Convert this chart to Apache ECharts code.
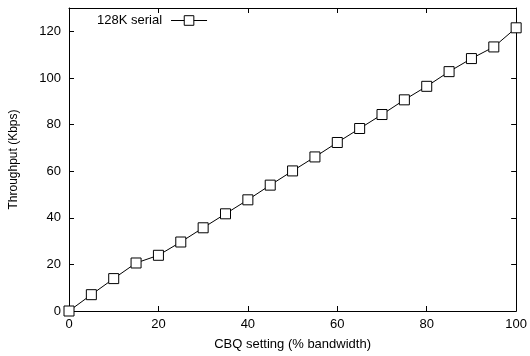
<!DOCTYPE html>
<html>
<head>
<meta charset="utf-8">
<script src="https://cdn.jsdelivr.net/npm/echarts@6/dist/echarts.min.js"></script>
<style>html,body{margin:0;padding:0;background:#fff}#c{width:530px;height:356px}</style>
</head>
<body>
<div id="c"></div>
<script>
const xValues = [0,5,10,15,20,25,30,35,40,45,50,55,60,65,70,75,80,85,90,95,100];
const throughput = [0,7,13.9,20.6,23.9,29.6,35.7,41.7,47.7,54,60.1,66.1,72.3,78.3,84.3,90.6,96.4,102.7,108.3,113.3,121.5];
const seriesName = '128K serial';
const xTitle = 'CBQ setting (% bandwidth)';
const yTitle = 'Throughput (Kbps)';

const font = 'Liberation Sans, Arial, sans-serif';
const chart = echarts.init(document.getElementById('c'), null, {renderer:'canvas'});
const lineStyle = {color:'#000', width:1};
const tick = {show:true, inside:true, length:5, lineStyle:{color:'#000', width:1}};
chart.setOption({
  animation:false,
  backgroundColor:'#fff',
  grid:{left:68, right:10, top:8, bottom:44, containLabel:false},
  legend:{
    show:true, left:92, top:9, align:'right', itemWidth:36, itemHeight:12, itemGap:0,
    textStyle:{fontFamily:font, fontSize:13, color:'#000', padding:[0,4,0,0]},
    lineStyle:{width:1, color:'#000'},
    itemStyle:{color:'#fff', borderColor:'#000', borderWidth:1},
    data:[seriesName]
  },
  xAxis:[{
    type:'value', min:0, max:100, interval:20, position:'bottom',
    name:xTitle, nameLocation:'middle', nameGap:27,
    nameTextStyle:{fontFamily:font, fontSize:13, color:'#000'},
    axisLine:{show:true, onZero:false, lineStyle}, axisTick:tick, splitLine:{show:false},
    axisLabel:{fontFamily:font, fontSize:13, color:'#000', margin:7}
  },{
    type:'value', min:0, max:100, interval:20, position:'top',
    axisLine:{show:true, onZero:false, lineStyle}, axisTick:tick, splitLine:{show:false},
    axisLabel:{show:false}
  }],
  yAxis:[{
    type:'value', min:0, max:130, interval:20, position:'left',
    name:yTitle, nameLocation:'middle', nameGap:49, nameRotate:90,
    nameTextStyle:{fontFamily:font, fontSize:12, color:'#000'},
    axisLine:{show:true, onZero:false, lineStyle}, axisTick:tick, splitLine:{show:false},
    axisLabel:{fontFamily:font, fontSize:13, color:'#000', margin:8, showMaxLabel:false}
  },{
    type:'value', min:0, max:130, interval:20, position:'right',
    axisLine:{show:true, onZero:false, lineStyle}, axisTick:tick, splitLine:{show:false},
    axisLabel:{show:false}
  }],
  series:[{
    name:seriesName, type:'line',
    data:xValues.map((x,i)=>[x, throughput[i]]),
    symbol:'rect', symbolSize:10, showAllSymbol:true,
    lineStyle:{color:'#000', width:1},
    itemStyle:{color:'#fff', borderColor:'#000', borderWidth:1},
    emphasis:{disabled:true}
  }]
});
</script>
</body>
</html>
